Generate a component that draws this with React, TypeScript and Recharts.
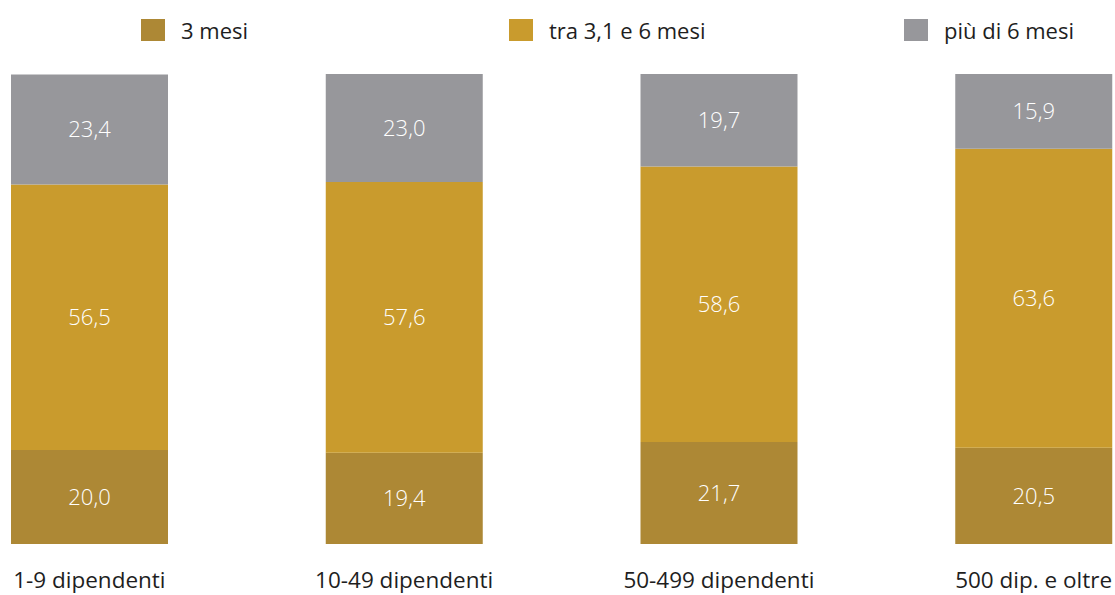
import React from 'react';
import { BarChart, Bar, XAxis, YAxis, Legend, LabelList } from 'recharts';

const categories = ['1-9 dipendenti', '10-49 dipendenti', '50-499 dipendenti', '500 dip. e oltre'];
const treMesi = [20.0, 19.4, 21.7, 20.5];
const traTreSei = [56.5, 57.6, 58.6, 63.6];
const oltreSei = [23.4, 23.0, 19.7, 15.9];

const seriesNames = ['3 mesi', 'tra 3,1 e 6 mesi', 'più di 6 mesi'];
const colors = ['#AD8835', '#C99B2D', '#97979B'];

const data = categories.map((name, i) => ({
  name,
  a: treMesi[i],
  b: traTreSei[i],
  c: oltreSei[i],
}));

const FONT = '"Open Sans", "Noto Sans", sans-serif';
const fmt = (v: any) => Number(v).toFixed(1).replace('.', ',');

// legend entries sit at fixed spots along the top
const legendX = [141, 509, 904];

const LegendContent = () => (
  <div style={{ position: 'relative', width: 1115, height: 60 }}>
    {seriesNames.map((n, i) => (
      <div
        key={n}
        style={{
          position: 'absolute',
          left: legendX[i],
          top: 19,
          display: 'flex',
          alignItems: 'center',
          fontFamily: FONT,
          fontWeight: 400,
          fontSize: 22,
          color: '#1E1E1E',
          whiteSpace: 'nowrap',
        }}
      >
        <span style={{ width: 24, height: 22, background: colors[i], display: 'inline-block', marginRight: 16 }} />
        <span style={{ lineHeight: '22px' }}>{n}</span>
      </div>
    ))}
  </div>
);

const Tick = ({ x, payload }: any) => (
  <text x={x} y={588} textAnchor="middle" fill="#1E1E1E" fontFamily={FONT} fontSize={22.5}>
    {payload.value}
  </text>
);

const labelStyle = { fill: '#FFFFFF', fontFamily: FONT, fontWeight: 300, fontSize: 22 };

export default function App() {
  return (
    <div>
      <style>{'body{margin:0;overflow:hidden}'}</style>
      <BarChart
        width={1115}
        height={595}
        data={data}
        margin={{ top: 14, right: -76, bottom: 21, left: -68 }}
        barSize={157}
      >
        <XAxis dataKey="name" height={30} tick={<Tick />} tickLine={false} axisLine={false} interval={0} />
        <YAxis hide domain={[0, 100]} />
        <Legend
          verticalAlign="top"
          height={60}
          content={<LegendContent />}
          wrapperStyle={{ top: 0, left: 0, width: 1115 }}
        />
        <Bar dataKey="a" stackId="s" fill={colors[0]} isAnimationActive={false}>
          <LabelList dataKey="a" position="center" formatter={fmt} style={labelStyle} />
        </Bar>
        <Bar dataKey="b" stackId="s" fill={colors[1]} isAnimationActive={false}>
          <LabelList dataKey="b" position="center" formatter={fmt} style={labelStyle} />
        </Bar>
        <Bar dataKey="c" stackId="s" fill={colors[2]} isAnimationActive={false}>
          <LabelList dataKey="c" position="center" formatter={fmt} style={labelStyle} />
        </Bar>
      </BarChart>
    </div>
  );
}
